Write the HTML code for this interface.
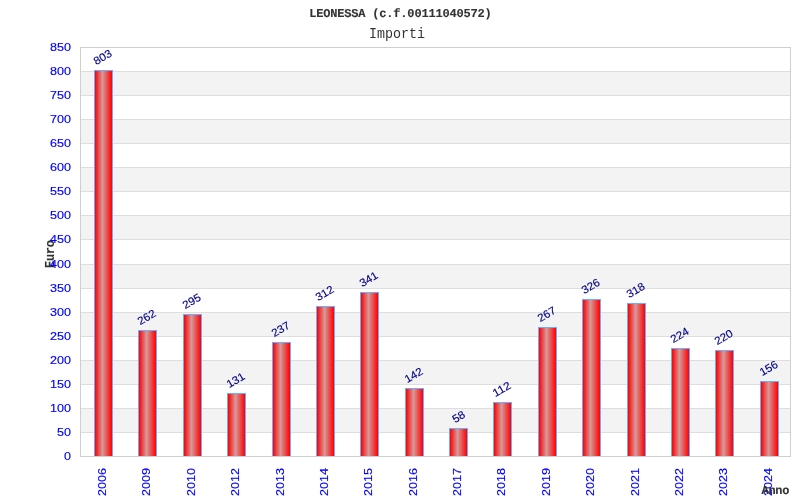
<!DOCTYPE html><html><head><meta charset="utf-8"><style>
html,body{margin:0;padding:0;background:#fff;width:800px;height:500px;overflow:hidden}
svg{display:block;will-change:transform}
.s{font-family:"Liberation Sans",sans-serif;font-size:11px;stroke-width:0.15px}
.m{font-family:"Liberation Mono",monospace}
</style></head><body>
<svg width="800" height="500" viewBox="0 0 800 500">
<defs><linearGradient id="g" x1="0" x2="1" y1="0" y2="0"><stop offset="0" stop-color="#ff0000"/><stop offset="0.44" stop-color="#d69a9a"/><stop offset="1" stop-color="#ff0000"/></linearGradient></defs>
<rect x="0" y="0" width="800" height="500" fill="#fff"/>
<g shape-rendering="crispEdges">
<rect x="80" y="408" width="710" height="24" fill="#f3f3f3"/>
<rect x="80" y="360" width="710" height="24" fill="#f3f3f3"/>
<rect x="80" y="312" width="710" height="24" fill="#f3f3f3"/>
<rect x="80" y="264" width="710" height="24" fill="#f3f3f3"/>
<rect x="80" y="215" width="710" height="24" fill="#f3f3f3"/>
<rect x="80" y="167" width="710" height="24" fill="#f3f3f3"/>
<rect x="80" y="119" width="710" height="24" fill="#f3f3f3"/>
<rect x="80" y="71" width="710" height="24" fill="#f3f3f3"/>
<rect x="80" y="432" width="710" height="1" fill="#dedede"/>
<rect x="80" y="408" width="710" height="1" fill="#dedede"/>
<rect x="80" y="384" width="710" height="1" fill="#dedede"/>
<rect x="80" y="360" width="710" height="1" fill="#dedede"/>
<rect x="80" y="336" width="710" height="1" fill="#dedede"/>
<rect x="80" y="312" width="710" height="1" fill="#dedede"/>
<rect x="80" y="288" width="710" height="1" fill="#dedede"/>
<rect x="80" y="264" width="710" height="1" fill="#dedede"/>
<rect x="80" y="239" width="710" height="1" fill="#dedede"/>
<rect x="80" y="215" width="710" height="1" fill="#dedede"/>
<rect x="80" y="191" width="710" height="1" fill="#dedede"/>
<rect x="80" y="167" width="710" height="1" fill="#dedede"/>
<rect x="80" y="143" width="710" height="1" fill="#dedede"/>
<rect x="80" y="119" width="710" height="1" fill="#dedede"/>
<rect x="80" y="95" width="710" height="1" fill="#dedede"/>
<rect x="80" y="71" width="710" height="1" fill="#dedede"/>
<rect x="94" y="70" width="19" height="386" fill="#6aaeff"/>
<rect x="95" y="71" width="17" height="385" fill="url(#g)"/>
<rect x="138" y="330" width="19" height="126" fill="#6aaeff"/>
<rect x="139" y="331" width="17" height="125" fill="url(#g)"/>
<rect x="183" y="314" width="19" height="142" fill="#6aaeff"/>
<rect x="184" y="315" width="17" height="141" fill="url(#g)"/>
<rect x="227" y="393" width="19" height="63" fill="#6aaeff"/>
<rect x="228" y="394" width="17" height="62" fill="url(#g)"/>
<rect x="272" y="342" width="19" height="114" fill="#6aaeff"/>
<rect x="273" y="343" width="17" height="113" fill="url(#g)"/>
<rect x="316" y="306" width="19" height="150" fill="#6aaeff"/>
<rect x="317" y="307" width="17" height="149" fill="url(#g)"/>
<rect x="360" y="292" width="19" height="164" fill="#6aaeff"/>
<rect x="361" y="293" width="17" height="163" fill="url(#g)"/>
<rect x="405" y="388" width="19" height="68" fill="#6aaeff"/>
<rect x="406" y="389" width="17" height="67" fill="url(#g)"/>
<rect x="449" y="428" width="19" height="28" fill="#6aaeff"/>
<rect x="450" y="429" width="17" height="27" fill="url(#g)"/>
<rect x="493" y="402" width="19" height="54" fill="#6aaeff"/>
<rect x="494" y="403" width="17" height="53" fill="url(#g)"/>
<rect x="538" y="327" width="19" height="129" fill="#6aaeff"/>
<rect x="539" y="328" width="17" height="128" fill="url(#g)"/>
<rect x="582" y="299" width="19" height="157" fill="#6aaeff"/>
<rect x="583" y="300" width="17" height="156" fill="url(#g)"/>
<rect x="627" y="303" width="19" height="153" fill="#6aaeff"/>
<rect x="628" y="304" width="17" height="152" fill="url(#g)"/>
<rect x="671" y="348" width="19" height="108" fill="#6aaeff"/>
<rect x="672" y="349" width="17" height="107" fill="url(#g)"/>
<rect x="715" y="350" width="19" height="106" fill="#6aaeff"/>
<rect x="716" y="351" width="17" height="105" fill="url(#g)"/>
<rect x="760" y="381" width="19" height="75" fill="#6aaeff"/>
<rect x="761" y="382" width="17" height="74" fill="url(#g)"/>
<rect x="80.5" y="47.5" width="710" height="409" fill="none" stroke="#cfcfcf" stroke-width="1"/>
</g>
<text class="m" transform="translate(53.7,268) rotate(-90)" font-weight="bold" font-size="12px" stroke="#333333" stroke-width="0.12" textLength="28" lengthAdjust="spacing" fill="#333333">Euro</text>
<text class="s" x="71" y="460" text-anchor="end" textLength="7" lengthAdjust="spacingAndGlyphs" fill="#0000ff" stroke="#0000ff">0</text>
<text class="s" x="71" y="436" text-anchor="end" textLength="14" lengthAdjust="spacingAndGlyphs" fill="#0000ff" stroke="#0000ff">50</text>
<text class="s" x="71" y="412" text-anchor="end" textLength="21" lengthAdjust="spacingAndGlyphs" fill="#0000ff" stroke="#0000ff">100</text>
<text class="s" x="71" y="388" text-anchor="end" textLength="21" lengthAdjust="spacingAndGlyphs" fill="#0000ff" stroke="#0000ff">150</text>
<text class="s" x="71" y="364" text-anchor="end" textLength="21" lengthAdjust="spacingAndGlyphs" fill="#0000ff" stroke="#0000ff">200</text>
<text class="s" x="71" y="340" text-anchor="end" textLength="21" lengthAdjust="spacingAndGlyphs" fill="#0000ff" stroke="#0000ff">250</text>
<text class="s" x="71" y="316" text-anchor="end" textLength="21" lengthAdjust="spacingAndGlyphs" fill="#0000ff" stroke="#0000ff">300</text>
<text class="s" x="71" y="292" text-anchor="end" textLength="21" lengthAdjust="spacingAndGlyphs" fill="#0000ff" stroke="#0000ff">350</text>
<text class="s" x="71" y="268" text-anchor="end" textLength="21" lengthAdjust="spacingAndGlyphs" fill="#0000ff" stroke="#0000ff">400</text>
<text class="s" x="71" y="243" text-anchor="end" textLength="21" lengthAdjust="spacingAndGlyphs" fill="#0000ff" stroke="#0000ff">450</text>
<text class="s" x="71" y="219" text-anchor="end" textLength="21" lengthAdjust="spacingAndGlyphs" fill="#0000ff" stroke="#0000ff">500</text>
<text class="s" x="71" y="195" text-anchor="end" textLength="21" lengthAdjust="spacingAndGlyphs" fill="#0000ff" stroke="#0000ff">550</text>
<text class="s" x="71" y="171" text-anchor="end" textLength="21" lengthAdjust="spacingAndGlyphs" fill="#0000ff" stroke="#0000ff">600</text>
<text class="s" x="71" y="147" text-anchor="end" textLength="21" lengthAdjust="spacingAndGlyphs" fill="#0000ff" stroke="#0000ff">650</text>
<text class="s" x="71" y="123" text-anchor="end" textLength="21" lengthAdjust="spacingAndGlyphs" fill="#0000ff" stroke="#0000ff">700</text>
<text class="s" x="71" y="99" text-anchor="end" textLength="21" lengthAdjust="spacingAndGlyphs" fill="#0000ff" stroke="#0000ff">750</text>
<text class="s" x="71" y="75" text-anchor="end" textLength="21" lengthAdjust="spacingAndGlyphs" fill="#0000ff" stroke="#0000ff">800</text>
<text class="s" x="71" y="51" text-anchor="end" textLength="21" lengthAdjust="spacingAndGlyphs" fill="#0000ff" stroke="#0000ff">850</text>
<text class="s" transform="translate(106,468) rotate(-90)" text-anchor="end" textLength="28" lengthAdjust="spacingAndGlyphs" fill="#0000ff" stroke="#0000ff">2006</text>
<text class="s" transform="translate(150,468) rotate(-90)" text-anchor="end" textLength="28" lengthAdjust="spacingAndGlyphs" fill="#0000ff" stroke="#0000ff">2009</text>
<text class="s" transform="translate(195,468) rotate(-90)" text-anchor="end" textLength="28" lengthAdjust="spacingAndGlyphs" fill="#0000ff" stroke="#0000ff">2010</text>
<text class="s" transform="translate(239,468) rotate(-90)" text-anchor="end" textLength="28" lengthAdjust="spacingAndGlyphs" fill="#0000ff" stroke="#0000ff">2012</text>
<text class="s" transform="translate(284,468) rotate(-90)" text-anchor="end" textLength="28" lengthAdjust="spacingAndGlyphs" fill="#0000ff" stroke="#0000ff">2013</text>
<text class="s" transform="translate(328,468) rotate(-90)" text-anchor="end" textLength="28" lengthAdjust="spacingAndGlyphs" fill="#0000ff" stroke="#0000ff">2014</text>
<text class="s" transform="translate(372,468) rotate(-90)" text-anchor="end" textLength="28" lengthAdjust="spacingAndGlyphs" fill="#0000ff" stroke="#0000ff">2015</text>
<text class="s" transform="translate(417,468) rotate(-90)" text-anchor="end" textLength="28" lengthAdjust="spacingAndGlyphs" fill="#0000ff" stroke="#0000ff">2016</text>
<text class="s" transform="translate(461,468) rotate(-90)" text-anchor="end" textLength="28" lengthAdjust="spacingAndGlyphs" fill="#0000ff" stroke="#0000ff">2017</text>
<text class="s" transform="translate(505,468) rotate(-90)" text-anchor="end" textLength="28" lengthAdjust="spacingAndGlyphs" fill="#0000ff" stroke="#0000ff">2018</text>
<text class="s" transform="translate(550,468) rotate(-90)" text-anchor="end" textLength="28" lengthAdjust="spacingAndGlyphs" fill="#0000ff" stroke="#0000ff">2019</text>
<text class="s" transform="translate(594,468) rotate(-90)" text-anchor="end" textLength="28" lengthAdjust="spacingAndGlyphs" fill="#0000ff" stroke="#0000ff">2020</text>
<text class="s" transform="translate(639,468) rotate(-90)" text-anchor="end" textLength="28" lengthAdjust="spacingAndGlyphs" fill="#0000ff" stroke="#0000ff">2021</text>
<text class="s" transform="translate(683,468) rotate(-90)" text-anchor="end" textLength="28" lengthAdjust="spacingAndGlyphs" fill="#0000ff" stroke="#0000ff">2022</text>
<text class="s" transform="translate(727,468) rotate(-90)" text-anchor="end" textLength="28" lengthAdjust="spacingAndGlyphs" fill="#0000ff" stroke="#0000ff">2023</text>
<text class="s" transform="translate(772,468) rotate(-90)" text-anchor="end" textLength="28" lengthAdjust="spacingAndGlyphs" fill="#0000ff" stroke="#0000ff">2024</text>
<text class="s" transform="translate(102.5,57.0) rotate(-30)" text-anchor="middle" dy="0.36em" textLength="19.200000000000003" lengthAdjust="spacingAndGlyphs" fill="#000088" stroke="#000088">803</text>
<text class="s" transform="translate(146.5,317.0) rotate(-30)" text-anchor="middle" dy="0.36em" textLength="19.200000000000003" lengthAdjust="spacingAndGlyphs" fill="#000088" stroke="#000088">262</text>
<text class="s" transform="translate(191.5,301.0) rotate(-30)" text-anchor="middle" dy="0.36em" textLength="19.200000000000003" lengthAdjust="spacingAndGlyphs" fill="#000088" stroke="#000088">295</text>
<text class="s" transform="translate(235.5,380.0) rotate(-30)" text-anchor="middle" dy="0.36em" textLength="19.200000000000003" lengthAdjust="spacingAndGlyphs" fill="#000088" stroke="#000088">131</text>
<text class="s" transform="translate(280.5,329.0) rotate(-30)" text-anchor="middle" dy="0.36em" textLength="19.200000000000003" lengthAdjust="spacingAndGlyphs" fill="#000088" stroke="#000088">237</text>
<text class="s" transform="translate(324.5,293.0) rotate(-30)" text-anchor="middle" dy="0.36em" textLength="19.200000000000003" lengthAdjust="spacingAndGlyphs" fill="#000088" stroke="#000088">312</text>
<text class="s" transform="translate(368.5,279.0) rotate(-30)" text-anchor="middle" dy="0.36em" textLength="19.200000000000003" lengthAdjust="spacingAndGlyphs" fill="#000088" stroke="#000088">341</text>
<text class="s" transform="translate(413.5,375.0) rotate(-30)" text-anchor="middle" dy="0.36em" textLength="19.200000000000003" lengthAdjust="spacingAndGlyphs" fill="#000088" stroke="#000088">142</text>
<text class="s" transform="translate(458.5,416.5) rotate(-30)" text-anchor="middle" dy="0.36em" textLength="12.8" lengthAdjust="spacingAndGlyphs" fill="#000088" stroke="#000088">58</text>
<text class="s" transform="translate(501.5,389.0) rotate(-30)" text-anchor="middle" dy="0.36em" textLength="19.200000000000003" lengthAdjust="spacingAndGlyphs" fill="#000088" stroke="#000088">112</text>
<text class="s" transform="translate(546.5,314.0) rotate(-30)" text-anchor="middle" dy="0.36em" textLength="19.200000000000003" lengthAdjust="spacingAndGlyphs" fill="#000088" stroke="#000088">267</text>
<text class="s" transform="translate(590.5,286.0) rotate(-30)" text-anchor="middle" dy="0.36em" textLength="19.200000000000003" lengthAdjust="spacingAndGlyphs" fill="#000088" stroke="#000088">326</text>
<text class="s" transform="translate(635.5,290.0) rotate(-30)" text-anchor="middle" dy="0.36em" textLength="19.200000000000003" lengthAdjust="spacingAndGlyphs" fill="#000088" stroke="#000088">318</text>
<text class="s" transform="translate(679.5,335.0) rotate(-30)" text-anchor="middle" dy="0.36em" textLength="19.200000000000003" lengthAdjust="spacingAndGlyphs" fill="#000088" stroke="#000088">224</text>
<text class="s" transform="translate(723.5,337.0) rotate(-30)" text-anchor="middle" dy="0.36em" textLength="19.200000000000003" lengthAdjust="spacingAndGlyphs" fill="#000088" stroke="#000088">220</text>
<text class="s" transform="translate(768.5,368.0) rotate(-30)" text-anchor="middle" dy="0.36em" textLength="19.200000000000003" lengthAdjust="spacingAndGlyphs" fill="#000088" stroke="#000088">156</text>
<text class="m" x="309.2" y="17" text-rendering="geometricPrecision" font-weight="bold" font-size="12px" stroke="#333333" stroke-width="0.12" textLength="182.5" lengthAdjust="spacing" fill="#333333">LEONESSA (c.f.00111040572)</text>
<text class="m" x="369" y="38" font-size="15px" textLength="56" lengthAdjust="spacingAndGlyphs" fill="#333333">Importi</text>
<text class="m" x="761.5" y="494" text-rendering="geometricPrecision" font-weight="bold" font-size="12px" stroke="#333333" stroke-width="0.12" textLength="28" lengthAdjust="spacing" fill="#333333">Anno</text>
</svg></body></html>
